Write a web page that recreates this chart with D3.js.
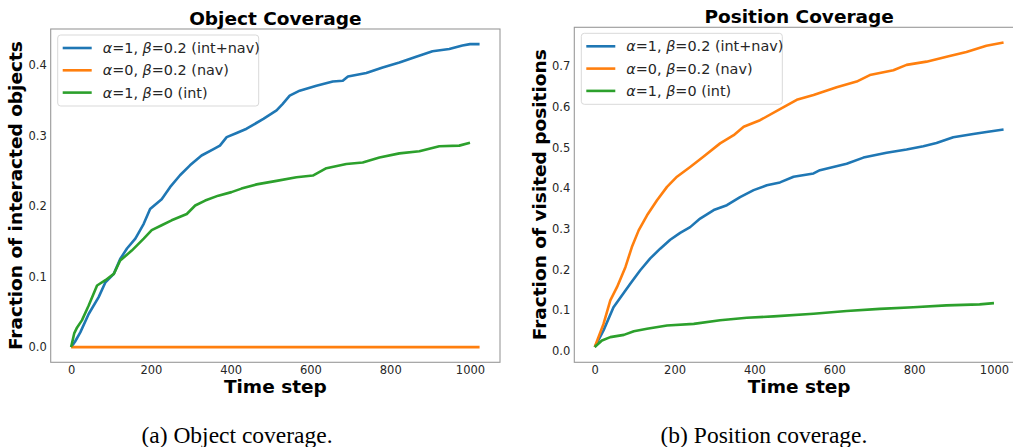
<!DOCTYPE html>
<html><head><meta charset="utf-8">
<script src="https://cdn.jsdelivr.net/npm/d3@7"></script>
<style>
body{margin:0;background:#fff;}
svg{display:block;}
</style></head>
<body>
<svg id="chart" width="1013" height="447"></svg>
<script>
// ---------- data ----------
const seriesLabels = ["int+nav", "nav", "int"];
const seriesColors = ["#1f77b4", "#ff7f0e", "#2ca02c"];
const legendAlpha = ["1", "0", "1"];
const legendBeta = ["0.2", "0.2", "0"];

const xTicks = [0, 200, 400, 600, 800, 1000];
const objYTicks = [0.0, 0.1, 0.2, 0.3, 0.4];
const posYTicks = [0.0, 0.1, 0.2, 0.3, 0.4, 0.5, 0.6, 0.7];

// Object coverage
const objBlueT = [0,10,23,44,69,86,107,123,140,161,182,198,227,248,273,298,327,357,373,390,415,440,482,515,530,548,573,615,656,681,694,740,781,823,865,906,948,981,1000,1024];
const objBlueV = [0,0.008,0.021,0.047,0.071,0.092,0.104,0.125,0.14,0.154,0.175,0.196,0.21,0.227,0.244,0.258,0.272,0.281,0.286,0.298,0.304,0.31,0.324,0.336,0.345,0.357,0.364,0.371,0.377,0.378,0.384,0.389,0.397,0.404,0.412,0.42,0.423,0.428,0.43,0.43];
const objOrangeT = [0, 1024];
const objOrangeV = [0, 0];
const objGreenT = [0,8,15,27,44,65,86,107,123,152,182,202,227,252,290,311,336,369,402,427,465,515,565,606,640,690,731,773,823,873,923,973,1000];
const objGreenV = [0,0.02,0.028,0.038,0.059,0.0875,0.095,0.104,0.123,0.137,0.154,0.166,0.173,0.18,0.189,0.201,0.208,0.215,0.22,0.225,0.231,0.236,0.241,0.2435,0.254,0.26,0.262,0.269,0.275,0.278,0.285,0.286,0.29];

// Position coverage
const posBlueT = [0,22,47,68,89,114,139,164,189,214,239,264,298,331,364,398,431,464,498,548,564,631,673,731,781,823,856,898,948,981,1024];
const posBlueV = [0.009,0.05,0.107,0.136,0.165,0.198,0.227,0.251,0.273,0.29,0.304,0.325,0.346,0.358,0.378,0.395,0.407,0.414,0.428,0.436,0.444,0.46,0.475,0.487,0.495,0.503,0.511,0.525,0.533,0.538,0.544];
const posOrangeT = [0,22,39,56,77,93,110,131,156,181,206,239,272,314,348,373,414,464,506,548,606,656,689,748,781,831,889,931,981,1024];
const posOrangeV = [0.009,0.066,0.124,0.157,0.206,0.255,0.296,0.333,0.37,0.403,0.428,0.452,0.477,0.51,0.53,0.551,0.567,0.594,0.617,0.629,0.648,0.662,0.678,0.69,0.703,0.711,0.725,0.735,0.75,0.758];
const posGreenT = [0,18,39,73,98,131,181,248,314,381,448,548,631,714,798,881,964,1000];
const posGreenV = [0.009,0.025,0.0335,0.039,0.048,0.054,0.062,0.066,0.075,0.081,0.0845,0.091,0.0975,0.103,0.107,0.1115,0.114,0.117];

const xDomain = [-51.2, 1075.2];

// ---------- drawing ----------
const svg = d3.select("#chart");
const SANS = "'DejaVu Sans', sans-serif";

function zip(ts, vs){ return ts.map((t,i)=>[t, vs[i]]); }

function panel(cfg){
  const g = svg.append("g");
  const x = d3.scaleLinear().domain(xDomain).range([cfg.left, cfg.right]);
  const y = d3.scaleLinear().domain(cfg.yDomain).range([cfg.bottom, cfg.top]);

  const cid = "clip" + cfg.id;
  svg.append("clipPath").attr("id", cid).append("rect")
    .attr("x", cfg.left).attr("y", cfg.top)
    .attr("width", cfg.right - cfg.left).attr("height", cfg.bottom - cfg.top);

  const line = d3.line().x(d=>x(d[0])).y(d=>y(d[1]));
  const lg = g.append("g").attr("clip-path", `url(#${cid})`);
  cfg.series.forEach((s,i)=>{
    lg.append("path").datum(zip(s[0], s[1]))
      .attr("d", line).attr("fill","none")
      .attr("stroke", seriesColors[i]).attr("stroke-width", 2.6)
      .attr("stroke-linejoin","round").attr("stroke-linecap","butt");
  });

  g.append("rect").attr("x", cfg.left).attr("y", cfg.top)
    .attr("width", cfg.right - cfg.left).attr("height", cfg.bottom - cfg.top)
    .attr("fill","none").attr("stroke","#999").attr("stroke-width",1.1);

  const xa = g.append("g").attr("transform",`translate(0,${cfg.bottom})`)
    .call(d3.axisBottom(x).tickValues(xTicks).tickSize(0).tickPadding(3.5).tickFormat(d3.format("d")));
  const ya = g.append("g").attr("transform",`translate(${cfg.left},0)`)
    .call(d3.axisLeft(y).tickValues(cfg.yTicks).tickSize(0).tickPadding(4).tickFormat(d3.format(".1f")));
  [xa, ya].forEach(a=>{
    a.select(".domain").remove();
    a.selectAll("text").attr("font-family", SANS).attr("font-size", 11.5).attr("fill","#262626");
  });

  g.append("text").attr("x", (cfg.left+cfg.right)/2).attr("y", cfg.top - 4)
    .attr("text-anchor","middle").attr("font-family",SANS).attr("font-weight","bold")
    .attr("font-size",18.5).text(cfg.title);
  g.append("text").attr("x", (cfg.left+cfg.right)/2).attr("y", 393)
    .attr("text-anchor","middle").attr("font-family",SANS).attr("font-weight","bold")
    .attr("font-size",18.5).text("Time step");
  g.append("text").attr("transform",`translate(${cfg.ylabelX},${(cfg.top+cfg.bottom)/2}) rotate(-90)`)
    .attr("text-anchor","middle").attr("font-family",SANS).attr("font-weight","bold")
    .attr("font-size",18.5).text(cfg.ylabel);

  const lx = cfg.left + 7, ly = cfg.top + 6;
  const lgd = g.append("g");
  lgd.append("rect").attr("x", lx).attr("y", ly).attr("width", 201).attr("height", 71)
    .attr("rx", 3).attr("fill","rgba(255,255,255,0.8)").attr("stroke","#d9d9d9").attr("stroke-width",1);
  seriesLabels.forEach((lab,i)=>{
    const ry = ly + 13 + i*22.3;
    lgd.append("line").attr("x1", lx+5).attr("x2", lx+34).attr("y1", ry).attr("y2", ry)
      .attr("stroke", seriesColors[i]).attr("stroke-width", 2.6);
    const t = lgd.append("text").attr("x", lx+45).attr("y", ry+5)
      .attr("font-family",SANS).attr("font-size",14.4).attr("fill","#262626");
    t.append("tspan").attr("font-style","italic").text("α");
    t.append("tspan").text("=" + legendAlpha[i] + ", ");
    t.append("tspan").attr("font-style","italic").text("β");
    t.append("tspan").text("=" + legendBeta[i] + " (" + lab + ")");
  });

  svg.append("text").attr("x", cfg.captionX).attr("y", 443)
    .attr("text-anchor","middle").attr("font-family","'Liberation Serif', 'Times New Roman', serif")
    .attr("font-size",23.5).attr("fill","#000").text(cfg.caption);
}

panel({
  id: "a", left: 50.7, right: 500, top: 29, bottom: 362.3,
  yDomain: [-0.0215, 0.4515], yTicks: objYTicks,
  series: [[objBlueT,objBlueV],[objOrangeT,objOrangeV],[objGreenT,objGreenV]],
  title: "Object Coverage", ylabel: "Fraction of interacted objects", ylabelX: 22,
  caption: "(a) Object coverage.", captionX: 237
});
panel({
  id: "b", left: 574.3, right: 1024, top: 27.3, bottom: 362.3,
  yDomain: [-0.0285, 0.7955], yTicks: posYTicks,
  series: [[posBlueT,posBlueV],[posOrangeT,posOrangeV],[posGreenT,posGreenV]],
  title: "Position Coverage", ylabel: "Fraction of visited positions", ylabelX: 546,
  caption: "(b) Position coverage.", captionX: 764
});
</script>
</body></html>
